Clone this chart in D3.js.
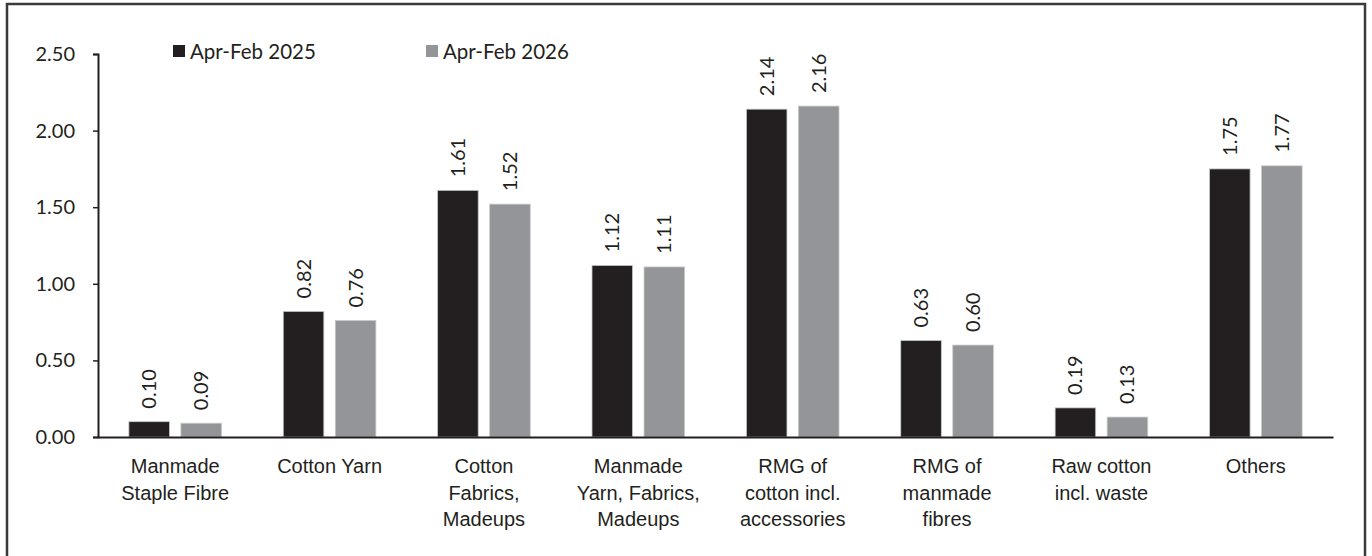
<!DOCTYPE html>
<html><head><meta charset="utf-8">
<script src="https://cdn.jsdelivr.net/npm/d3@7"></script>
<style>
html,body{margin:0;padding:0;background:#fff;}
svg{display:block;font-family:Lato, "Open Sans", sans-serif;}
</style></head>
<body><svg id="c" width="1372" height="556"></svg>
<script>
const categories = [
  ["Manmade","Staple Fibre"],
  ["Cotton Yarn"],
  ["Cotton","Fabrics,","Madeups"],
  ["Manmade","Yarn, Fabrics,","Madeups"],
  ["RMG of","cotton incl.","accessories"],
  ["RMG of","manmade","fibres"],
  ["Raw cotton","incl. waste"],
  ["Others"]
];
const seriesNames = ["Apr-Feb 2025","Apr-Feb 2026"];
const values2025 = [0.10,0.82,1.61,1.12,2.14,0.63,0.19,1.75];
const values2026 = [0.09,0.76,1.52,1.11,2.16,0.60,0.13,1.77];
const yTicks = [0,0.5,1.0,1.5,2.0,2.5];
const colors = ["#231f20","#939598"];

(function(){
const svg = d3.select("#c");
svg.append("rect").attr("x",7).attr("y",4).attr("width",1358).attr("height",570)
  .attr("fill","none").attr("stroke","#3a3a3a").attr("stroke-width",2.5);

const mL=98, mR=1333, mT=54, mB=437;
const fs = 20;
const idx = d3.range(categories.length);
const x0 = d3.scaleBand().domain(idx).range([mL,mR]).paddingInner(0.4).paddingOuter(0.2);
const x1 = d3.scaleBand().domain([0,1]).range([0,x0.bandwidth()]).paddingInner(0.22);
const y = d3.scaleLinear().domain([0,2.5]).range([mB,mT]);

const ya = svg.append("g").attr("transform",`translate(${mL},0)`)
  .call(d3.axisLeft(y).tickValues(yTicks).tickFormat(d3.format(".2f")).tickSize(5).tickPadding(18));
ya.select(".domain").attr("stroke","#231f20").attr("stroke-width",2);
ya.selectAll(".tick line").attr("stroke","#231f20").attr("stroke-width",1.5);
ya.selectAll(".tick text").attr("font-size",fs).attr("fill","#231f20").attr("font-family","Lato");

const series = [values2025, values2026];
series.forEach((vals,s)=>{
  svg.append("g").selectAll("rect").data(idx).join("rect")
    .attr("x",i=>x0(i)+x1(s)).attr("width",x1.bandwidth())
    .attr("y",i=>y(vals[i])).attr("height",i=>y(0)-y(vals[i]))
    .attr("fill",colors[s]).attr("stroke","#c8c9cb").attr("stroke-width",0.8);
  svg.append("g").selectAll("text").data(idx).join("text")
    .attr("transform",i=>`translate(${x0(i)+x1(s)+x1.bandwidth()/2+7},${y(vals[i])-13}) rotate(-90)`)
    .attr("font-size",fs).attr("fill","#231f20")
    .text(i=>vals[i].toFixed(2));
});

const xa = svg.append("g").attr("transform",`translate(0,${mB})`)
  .call(d3.axisBottom(x0).tickSize(0).tickFormat(""));
xa.select(".domain").attr("stroke","#231f20").attr("stroke-width",2);
xa.selectAll(".tick").each(function(i){
  const t = d3.select(this).append("text").attr("text-anchor","middle")
    .attr("font-size",fs).attr("fill","#231f20");
  categories[i].forEach((ln,k)=>{
    t.append("tspan").attr("x",0).attr("y",36+k*26.5).text(ln);
  });
});

const legX = [173,426];
seriesNames.forEach((n,s)=>{
  svg.append("rect").attr("x",legX[s]).attr("y",45).attr("width",12).attr("height",12).attr("fill",colors[s]);
  svg.append("text").attr("x",legX[s]+17).attr("y",58.5).attr("font-size",fs+0.5).attr("fill","#231f20").text(n);
});
})();
</script></body></html>
